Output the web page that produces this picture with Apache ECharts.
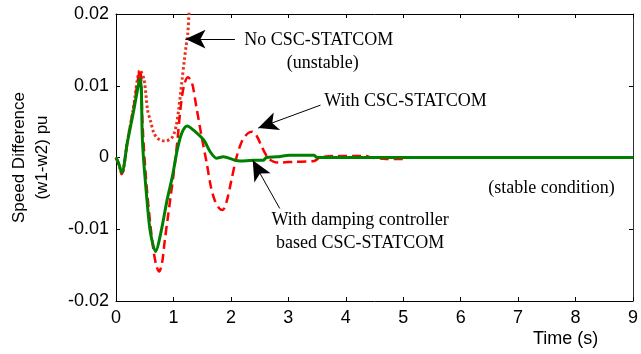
<!DOCTYPE html>
<html>
<head>
<meta charset="utf-8">
<script src="https://cdn.jsdelivr.net/npm/echarts@6/dist/echarts.min.js"></script>
<style>
  html, body { margin: 0; padding: 0; background: #fff; }
  #chart { width: 641px; height: 354px; }
</style>
</head>
<body>
<div id="chart"></div>
<script>
// Time axis ticks (s) and speed-difference ticks (pu)
const timeTicks = [0, 1, 2, 3, 4, 5, 6, 7, 8, 9];
const speedTicks = [-0.02, -0.01, 0, 0.01, 0.02];

// No CSC-STATCOM (unstable case)
const tNoComp = [0, 0.05, 0.1, 0.2, 0.3, 0.42, 0.49, 0.55, 0.6, 0.66, 0.72, 0.78, 0.85, 0.95, 1.0, 1.05, 1.09, 1.15, 1.19, 1.22, 1.25, 1.27, 1.3];
const wNoComp = [0, -0.001, -0.0023, 0.0023, 0.0067, 0.0122, 0.0108, 0.0066, 0.0051, 0.0034, 0.0027, 0.0024, 0.0023, 0.0026, 0.0031, 0.0045, 0.0066, 0.0108, 0.0136, 0.0155, 0.0173, 0.0201, 0.026];

// With CSC-STATCOM
const tStatcom = [0, 0.05, 0.1, 0.2, 0.3, 0.42, 0.46, 0.5, 0.55, 0.6, 0.65, 0.7, 0.75, 0.8, 0.85, 0.9, 0.95, 1.0, 1.07, 1.12, 1.18, 1.25, 1.32, 1.4, 1.5, 1.58, 1.65, 1.72, 1.8, 1.86, 1.93, 2.0, 2.1, 2.2, 2.3, 2.37, 2.45, 2.55, 2.65, 2.75, 2.85, 3.1, 3.45, 3.55, 3.8, 4.35, 4.45, 4.7, 5.0, 5.1, 9];
const wStatcom = [0, -0.001, -0.0023, 0.0023, 0.0067, 0.0122, 0.005, -0.0005, -0.0055, -0.0095, -0.0128, -0.015, -0.0159, -0.0148, -0.0115, -0.0085, -0.0055, -0.0025, 0.0024, 0.0066, 0.0099, 0.0112, 0.0105, 0.007, 0.0025, -0.0008, -0.004, -0.006, -0.0071, -0.0073, -0.006, -0.0035, 0.0001, 0.0024, 0.0034, 0.0036, 0.003, 0.0013, -0.0001, -0.0006, -0.0007, -0.0006, -0.0005, 0, 0.0002, 0.0002, 0, -0.0002, -0.0002, 0, 0];

// With damping controller based CSC-STATCOM
const tDamped = [0, 0.05, 0.1, 0.2, 0.3, 0.42, 0.46, 0.49, 0.55, 0.6, 0.69, 0.78, 0.89, 0.98, 1.07, 1.15, 1.24, 1.35, 1.53, 1.64, 1.75, 1.87, 2.04, 2.16, 2.39, 2.56, 2.62, 2.8, 3.02, 3.45, 3.5, 9];
const wDamped = [0, -0.0009, -0.0021, 0.0022, 0.0062, 0.011, 0.0024, -0.0013, -0.0069, -0.0105, -0.0131, -0.0105, -0.0059, -0.0027, 0.0012, 0.0035, 0.0044, 0.0038, 0.0024, 0.0008, -0.0001, 0.0001, -0.0003, -0.0005, -0.0004, -0.0004, 0, 0.0001, 0.0003, 0.0003, 0, 0];

// Annotation texts with their anchor points [t, w]
const noteLabels = ['No CSC-STATCOM', '(unstable)', 'With CSC-STATCOM', 'With damping controller', 'based CSC-STATCOM', '(stable condition)'];
const notePoints = [[3.53, 0.0164], [3.6, 0.0132], [5.04, 0.0078], [4.25, -0.0087], [4.25, -0.0119], [7.58, -0.0043]];
// Arrows: [from, to] in data units
const arrows = [
  [[2.07, 0.0165], [1.21, 0.0165]],
  [[3.56, 0.0073], [2.475, 0.0041]],
  [[2.85, -0.0071], [2.38, -0.0004]]
];

const zip = (t, w) => t.map((x, i) => [x, w[i]]);

const sans = 'Liberation Sans, Arial, sans-serif';
const serif = 'Liberation Serif, Times New Roman, serif';

const tickStyle = { inside: true, length: 4, lineStyle: { color: '#000', width: 1 } };

function xAxisDef(pos, showLabel) {
  return {
    type: 'value', position: pos, min: timeTicks[0], max: timeTicks[timeTicks.length - 1], interval: 1,
    axisLine: { show: true, onZero: false, lineStyle: { color: '#000', width: 1 } },
    axisTick: tickStyle,
    axisLabel: { show: showLabel, fontSize: 18, color: '#000', fontFamily: sans, margin: 8 },
    splitLine: { show: false }
  };
}
function yAxisDef(pos, showLabel, lineColor) {
  return {
    type: 'value', position: pos, min: speedTicks[0], max: speedTicks[speedTicks.length - 1], interval: 0.01,
    axisLine: { show: true, onZero: false, lineStyle: { color: lineColor, width: 1 } },
    axisTick: tickStyle,
    axisLabel: { show: showLabel, fontSize: 18, color: '#000', fontFamily: sans, margin: 7 },
    splitLine: { show: false }
  };
}

const yLeft = yAxisDef('left', true, '#000');
yLeft.name = 'Speed Difference\n(w1-w2) pu';
yLeft.nameLocation = 'middle';
yLeft.nameGap = 62;
yLeft.nameTextStyle = { fontSize: 17, lineHeight: 23, color: '#000', fontFamily: sans };

const chart = echarts.init(document.getElementById('chart'), null, { renderer: 'canvas' });
chart.setOption({
  animation: false,
  backgroundColor: '#fff',
  grid: { left: 115, right: 5, top: 14, bottom: 53, containLabel: false },
  xAxis: [xAxisDef('bottom', true), xAxisDef('top', false)],
  yAxis: [yLeft, yAxisDef('right', false, '#333')],
  series: [
    {
      name: 'No CSC-STATCOM', type: 'line', data: zip(tNoComp, wNoComp),
      symbol: 'none', smooth: 0.3, clip: true,
      lineStyle: { color: '#e8341c', width: 3, type: [2.5, 2.5] }
    },
    {
      name: 'With CSC-STATCOM', type: 'line', data: zip(tStatcom, wStatcom),
      symbol: 'none', smooth: 0.3, clip: true,
      lineStyle: { color: '#ff0000', width: 2.5, type: [9, 5] }
    },
    {
      name: 'With damping controller based CSC-STATCOM', type: 'line', data: zip(tDamped, wDamped),
      symbol: 'none', smooth: 0.3, clip: true,
      lineStyle: { color: '#008000', width: 3 },
      markLine: {
        silent: true, animation: false,
        symbolSize: [14, 20],
        label: { show: false },
        lineStyle: { color: '#000', width: 1, type: 'solid' },
        emphasis: { disabled: true },
        data: arrows.map(a => [
          { coord: a[0], symbol: 'none' },
          { coord: a[1], symbol: 'arrow' }
        ])
      },
      markPoint: {
        silent: true, animation: false,
        symbol: 'circle', symbolSize: 0,
        itemStyle: { color: 'rgba(0,0,0,0)' },
        label: { show: true, position: 'inside', fontSize: 18, color: '#000', fontFamily: serif },
        data: noteLabels.map((txt, i) => ({
          coord: notePoints[i],
          label: { formatter: txt }
        }))
      }
    }
  ],
  graphic: [
    {
      type: 'text', left: 533, top: 330,
      style: { text: 'Time (s)', fontSize: 18, fill: '#000', fontFamily: sans }
    }
  ]
});
</script>
</body>
</html>
